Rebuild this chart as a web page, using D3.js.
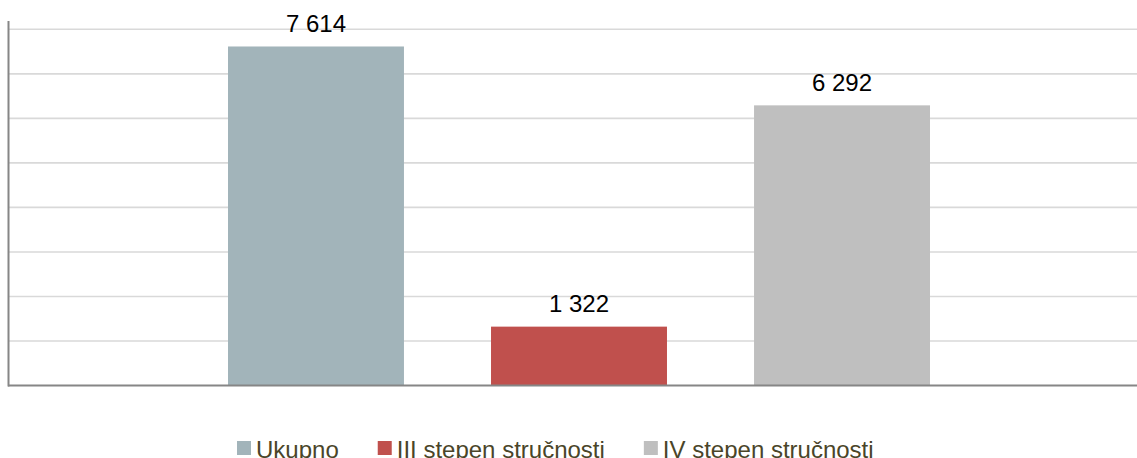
<!DOCTYPE html>
<html>
<head>
<meta charset="utf-8">
<script src="https://cdn.jsdelivr.net/npm/d3@7"></script>
<style>
  html, body { margin: 0; padding: 0; background: #fff; }
  svg { display: block; font-family: "Liberation Sans", Arial, sans-serif; }
</style>
</head>
<body>
<svg id="chart" width="1137" height="458"></svg>
<script>
const series = ["Ukupno", "III stepen stručnosti", "IV stepen stručnosti"];
const values = [7614, 1322, 6292];
const labels = ["7 614", "1 322", "6 292"];
const colors = ["#A2B4BA", "#C0504D", "#BFBFBF"];
const yTicks = [1000, 2000, 3000, 4000, 5000, 6000, 7000, 8000];

const svg = d3.select("#chart");
const plotLeft = 9, plotRight = 1137, plotTop = 29.3, plotBottom = 385.5;

const y = d3.scaleLinear().domain([0, 8000]).range([plotBottom, plotTop]);
const x = d3.scaleBand().domain(series).range([228, 930]).paddingInner(0.331).paddingOuter(0);

// gridlines
svg.append("g")
  .selectAll("line")
  .data(yTicks)
  .join("line")
  .attr("x1", plotLeft).attr("x2", plotRight)
  .attr("y1", d => y(d)).attr("y2", d => y(d))
  .attr("stroke", "#D9D9D9").attr("stroke-width", 1.6);

// bars
svg.append("g")
  .selectAll("rect")
  .data(series)
  .join("rect")
  .attr("x", d => x(d))
  .attr("width", x.bandwidth())
  .attr("y", (d, i) => y(values[i]))
  .attr("height", (d, i) => plotBottom - y(values[i]))
  .attr("fill", (d, i) => colors[i]);

// value labels
svg.append("g")
  .selectAll("text")
  .data(series)
  .join("text")
  .attr("x", d => x(d) + x.bandwidth() / 2)
  .attr("y", (d, i) => y(values[i]) - 14.5)
  .attr("text-anchor", "middle")
  .attr("font-size", 24)
  .attr("fill", "#000")
  .text((d, i) => labels[i]);

// axes lines
svg.append("line")
  .attr("x1", 8.5).attr("x2", 8.5).attr("y1", 21).attr("y2", plotBottom + 1)
  .attr("stroke", "#868686").attr("stroke-width", 2);
svg.append("line")
  .attr("x1", 8).attr("x2", plotRight).attr("y1", plotBottom).attr("y2", plotBottom)
  .attr("stroke", "#868686").attr("stroke-width", 2);

// legend
const legend = svg.append("g");
let lx = 237;
series.forEach((s, i) => {
  legend.append("rect")
    .attr("x", lx).attr("y", 441).attr("width", 14).attr("height", 14)
    .attr("fill", colors[i]);
  const t = legend.append("text")
    .attr("x", lx + 19).attr("y", 457.5)
    .attr("font-size", 24)
    .attr("fill", "#4A4529")
    .text(s);
  const w = t.node().getComputedTextLength();
  lx = lx + 19 + w + 39;
});
</script>
</body>
</html>
